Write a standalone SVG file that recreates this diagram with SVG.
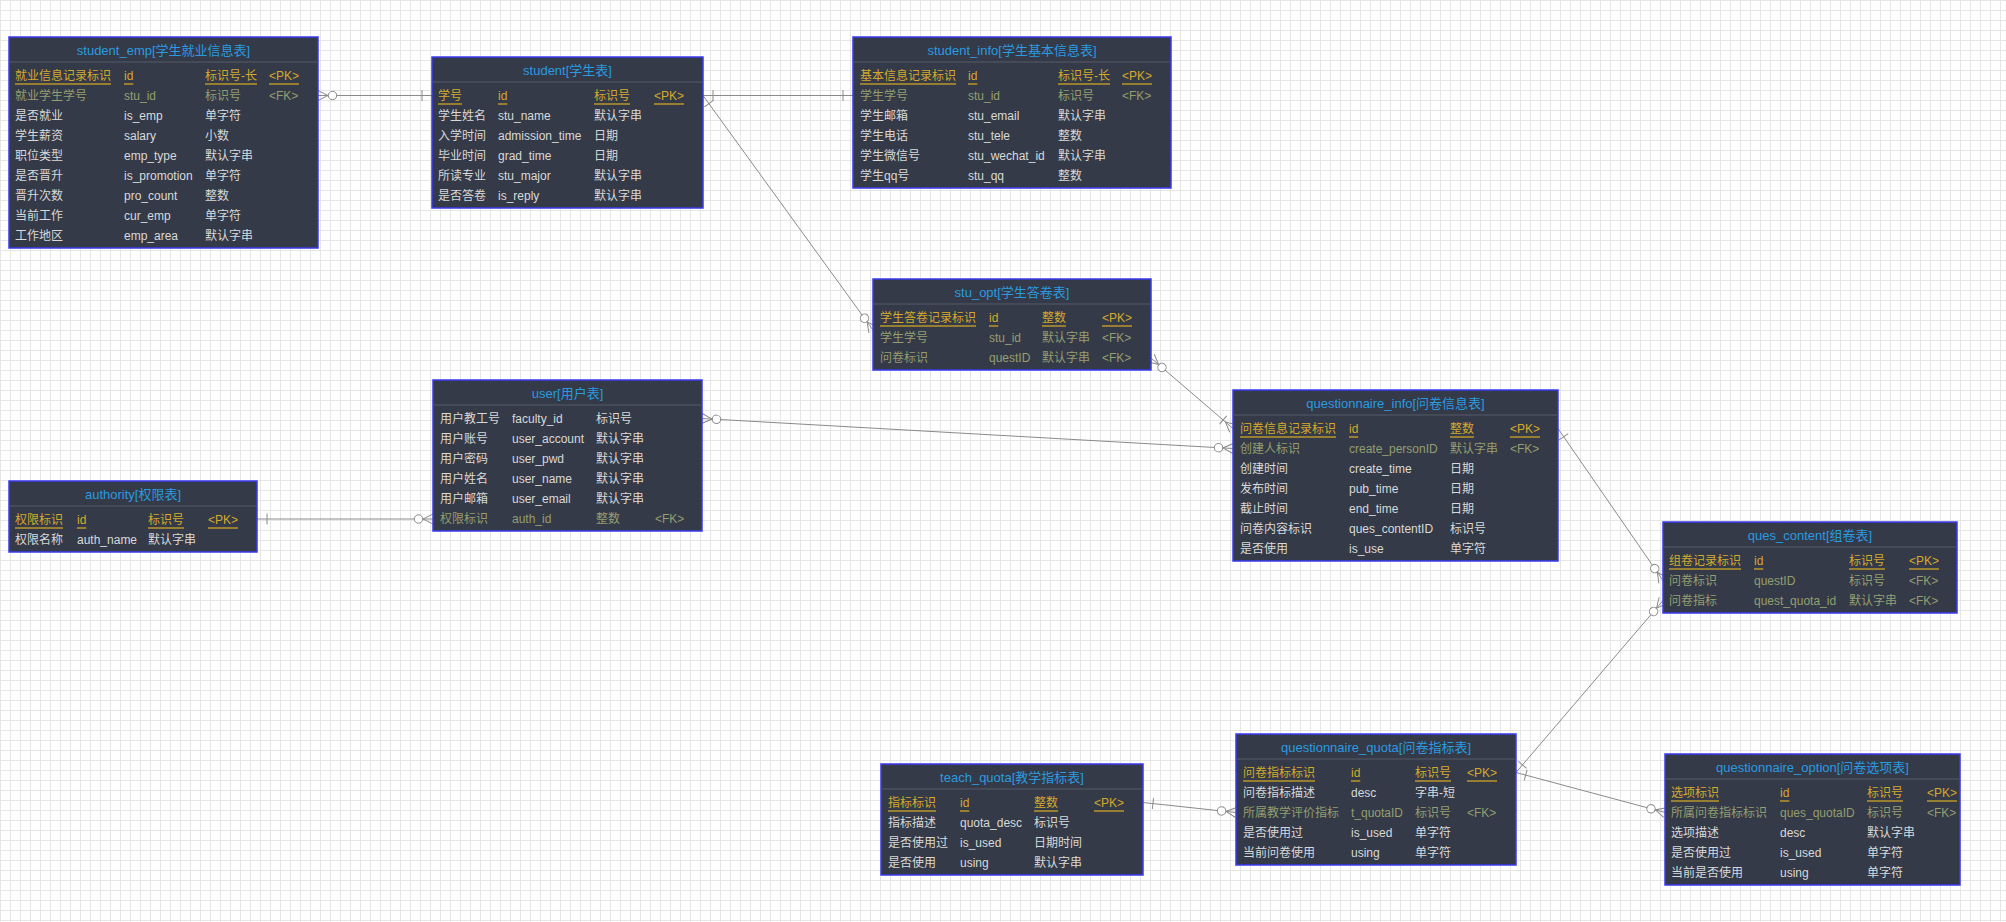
<svg xmlns="http://www.w3.org/2000/svg" width="2006" height="922" viewBox="0 0 2006 922">
  <style>
    text { font-family: "Liberation Sans", "Noto Sans CJK SC", sans-serif; font-size: 12px; }
    .tb { fill: #343a47; stroke: #3a3af2; stroke-width: 1.5; }
    .sep { stroke: #4b515e; stroke-width: 1.5; }
    .ttl { fill: #2a9be0; font-size: 13px; text-anchor: middle; }
    .pk { fill: #d4aa2c; }
    .fk { fill: #959e70; }
    .nm { fill: #d9d9d9; }
    .ul { stroke: #b8952a; stroke-width: 1.5; }
    .cn { fill: none; stroke: #8a8a8a; stroke-width: 1; }
    .mk { fill: none; stroke: #8a8a8a; stroke-width: 1; }
    .mkc { fill: #ffffff; stroke: #8a8a8a; stroke-width: 1; }
  </style>
  <defs>
    <pattern id="grid" width="10" height="10" patternUnits="userSpaceOnUse">
      <path d="M0,0.5H10M0.5,0V10" fill="none" stroke="#e6e6e6" stroke-width="1"/>
    </pattern>
    <!-- exactly one -->
    <marker id="m-one" markerUnits="userSpaceOnUse" orient="auto-start-reverse" markerWidth="1" markerHeight="1" refX="0" refY="0" overflow="visible">
      <path class="mk" d="M-10,-5.5V5.5"/>
    </marker>
    <!-- zero or many -->
    <marker id="m-zmany" markerUnits="userSpaceOnUse" orient="auto-start-reverse" markerWidth="1" markerHeight="1" refX="0" refY="0" overflow="visible">
      <path class="mk" d="M0,-5L-10,0L0,5"/>
      <circle class="mkc" cx="-14.5" cy="0" r="4.2"/>
    </marker>
    <!-- one or many -->
    <marker id="m-omany" markerUnits="userSpaceOnUse" orient="auto-start-reverse" markerWidth="1" markerHeight="1" refX="0" refY="0" overflow="visible">
      <path class="mk" d="M0,-5L-10,0L0,5M-13,-5.5V5.5"/>
    </marker>
  </defs>

  <rect width="2006" height="922" fill="#ffffff"/>
  <rect width="2006" height="922" fill="url(#grid)"/>

  <g id="connectors">
    <path class="cn" d="M318,95.5L432,95.5" marker-start="url(#m-zmany)" marker-end="url(#m-one)"/>
    <path class="cn" d="M703,95.5L853,95.5" marker-start="url(#m-one)" marker-end="url(#m-one)"/>
    <path class="cn" d="M703,95.5L873,330" marker-start="url(#m-one)" marker-end="url(#m-zmany)"/>
    <path class="cn" d="M1151,358L1233,428.5" marker-start="url(#m-zmany)" marker-end="url(#m-omany)"/>
    <path class="cn" d="M702,418.5L1233,448.5" marker-start="url(#m-zmany)" marker-end="url(#m-zmany)"/>
    <path class="cn" d="M257,519L433,519" marker-start="url(#m-one)" marker-end="url(#m-zmany)"/>
    <path class="cn" d="M1558,428.5L1663,580.5" marker-start="url(#m-one)" marker-end="url(#m-zmany)"/>
    <path class="cn" d="M1516,772.5L1663,600.5" marker-start="url(#m-one)" marker-end="url(#m-zmany)"/>
    <path class="cn" d="M1516,772.5L1665,812.5" marker-start="url(#m-one)" marker-end="url(#m-zmany)"/>
    <path class="cn" d="M1143,802.5L1236,812.5" marker-start="url(#m-one)" marker-end="url(#m-zmany)"/>
  </g>

  <g id="student_emp">
    <rect class="tb" x="9" y="37" width="309" height="211"/>
    <text class="ttl" x="163.5" y="55">student_emp[学生就业信息表]</text>
    <line class="sep" x1="9.75" y1="62" x2="317.25" y2="62"/>
    <text class="pk" x="15" y="80">就业信息记录标识</text><text class="pk" x="124" y="80">id</text><text class="pk" x="205" y="80">标识号-长</text><text class="pk" x="269" y="80">&lt;PK&gt;</text>
    <path class="ul" d="M15,84H111M124,84H133.3M205,84H257M269,84H299"/>
    <text class="fk" x="15" y="100">就业学生学号</text><text class="fk" x="124" y="100">stu_id</text><text class="fk" x="205" y="100">标识号</text><text class="fk" x="269" y="100">&lt;FK&gt;</text>
    <text class="nm" x="15" y="120">是否就业</text><text class="nm" x="124" y="120">is_emp</text><text class="nm" x="205" y="120">单字符</text>
    <text class="nm" x="15" y="140">学生薪资</text><text class="nm" x="124" y="140">salary</text><text class="nm" x="205" y="140">小数</text>
    <text class="nm" x="15" y="160">职位类型</text><text class="nm" x="124" y="160">emp_type</text><text class="nm" x="205" y="160">默认字串</text>
    <text class="nm" x="15" y="180">是否晋升</text><text class="nm" x="124" y="180">is_promotion</text><text class="nm" x="205" y="180">单字符</text>
    <text class="nm" x="15" y="200">晋升次数</text><text class="nm" x="124" y="200">pro_count</text><text class="nm" x="205" y="200">整数</text>
    <text class="nm" x="15" y="220">当前工作</text><text class="nm" x="124" y="220">cur_emp</text><text class="nm" x="205" y="220">单字符</text>
    <text class="nm" x="15" y="240">工作地区</text><text class="nm" x="124" y="240">emp_area</text><text class="nm" x="205" y="240">默认字串</text>
  </g>

  <g id="student">
    <rect class="tb" x="432" y="57" width="271" height="151"/>
    <text class="ttl" x="567.5" y="75">student[学生表]</text>
    <line class="sep" x1="432.75" y1="82" x2="702.25" y2="82"/>
    <text class="pk" x="438" y="100">学号</text><text class="pk" x="498" y="100">id</text><text class="pk" x="594" y="100">标识号</text><text class="pk" x="654" y="100">&lt;PK&gt;</text>
    <path class="ul" d="M438,104H462M498,104H507.3M594,104H630M654,104H684"/>
    <text class="nm" x="438" y="120">学生姓名</text><text class="nm" x="498" y="120">stu_name</text><text class="nm" x="594" y="120">默认字串</text>
    <text class="nm" x="438" y="140">入学时间</text><text class="nm" x="498" y="140">admission_time</text><text class="nm" x="594" y="140">日期</text>
    <text class="nm" x="438" y="160">毕业时间</text><text class="nm" x="498" y="160">grad_time</text><text class="nm" x="594" y="160">日期</text>
    <text class="nm" x="438" y="180">所读专业</text><text class="nm" x="498" y="180">stu_major</text><text class="nm" x="594" y="180">默认字串</text>
    <text class="nm" x="438" y="200">是否答卷</text><text class="nm" x="498" y="200">is_reply</text><text class="nm" x="594" y="200">默认字串</text>
  </g>

  <g id="student_info">
    <rect class="tb" x="853" y="37" width="318" height="151"/>
    <text class="ttl" x="1012" y="55">student_info[学生基本信息表]</text>
    <line class="sep" x1="853.75" y1="62" x2="1170.25" y2="62"/>
    <text class="pk" x="860" y="80">基本信息记录标识</text><text class="pk" x="968" y="80">id</text><text class="pk" x="1058" y="80">标识号-长</text><text class="pk" x="1122" y="80">&lt;PK&gt;</text>
    <path class="ul" d="M860,84H956M968,84H977.3M1058,84H1110M1122,84H1152"/>
    <text class="fk" x="860" y="100">学生学号</text><text class="fk" x="968" y="100">stu_id</text><text class="fk" x="1058" y="100">标识号</text><text class="fk" x="1122" y="100">&lt;FK&gt;</text>
    <text class="nm" x="860" y="120">学生邮箱</text><text class="nm" x="968" y="120">stu_email</text><text class="nm" x="1058" y="120">默认字串</text>
    <text class="nm" x="860" y="140">学生电话</text><text class="nm" x="968" y="140">stu_tele</text><text class="nm" x="1058" y="140">整数</text>
    <text class="nm" x="860" y="160">学生微信号</text><text class="nm" x="968" y="160">stu_wechat_id</text><text class="nm" x="1058" y="160">默认字串</text>
    <text class="nm" x="860" y="180">学生qq号</text><text class="nm" x="968" y="180">stu_qq</text><text class="nm" x="1058" y="180">整数</text>
  </g>

  <g id="stu_opt">
    <rect class="tb" x="873" y="279" width="278" height="91"/>
    <text class="ttl" x="1012" y="297">stu_opt[学生答卷表]</text>
    <line class="sep" x1="873.75" y1="304" x2="1150.25" y2="304"/>
    <text class="pk" x="880" y="322">学生答卷记录标识</text><text class="pk" x="989" y="322">id</text><text class="pk" x="1042" y="322">整数</text><text class="pk" x="1102" y="322">&lt;PK&gt;</text>
    <path class="ul" d="M880,326H976M989,326H998.3M1042,326H1066M1102,326H1132"/>
    <text class="fk" x="880" y="342">学生学号</text><text class="fk" x="989" y="342">stu_id</text><text class="fk" x="1042" y="342">默认字串</text><text class="fk" x="1102" y="342">&lt;FK&gt;</text>
    <text class="fk" x="880" y="362">问卷标识</text><text class="fk" x="989" y="362">questID</text><text class="fk" x="1042" y="362">默认字串</text><text class="fk" x="1102" y="362">&lt;FK&gt;</text>
  </g>

  <g id="user">
    <rect class="tb" x="433" y="380" width="269" height="151"/>
    <text class="ttl" x="567.5" y="398">user[用户表]</text>
    <line class="sep" x1="433.75" y1="405" x2="701.25" y2="405"/>
    <text class="nm" x="440" y="423">用户教工号</text><text class="nm" x="512" y="423">faculty_id</text><text class="nm" x="596" y="423">标识号</text>
    <text class="nm" x="440" y="443">用户账号</text><text class="nm" x="512" y="443">user_account</text><text class="nm" x="596" y="443">默认字串</text>
    <text class="nm" x="440" y="463">用户密码</text><text class="nm" x="512" y="463">user_pwd</text><text class="nm" x="596" y="463">默认字串</text>
    <text class="nm" x="440" y="483">用户姓名</text><text class="nm" x="512" y="483">user_name</text><text class="nm" x="596" y="483">默认字串</text>
    <text class="nm" x="440" y="503">用户邮箱</text><text class="nm" x="512" y="503">user_email</text><text class="nm" x="596" y="503">默认字串</text>
    <text class="fk" x="440" y="523">权限标识</text><text class="fk" x="512" y="523">auth_id</text><text class="fk" x="596" y="523">整数</text><text class="fk" x="655" y="523">&lt;FK&gt;</text>
  </g>

  <g id="authority">
    <rect class="tb" x="9" y="481" width="248" height="71"/>
    <text class="ttl" x="133" y="499">authority[权限表]</text>
    <line class="sep" x1="9.75" y1="506" x2="256.25" y2="506"/>
    <text class="pk" x="15" y="524">权限标识</text><text class="pk" x="77" y="524">id</text><text class="pk" x="148" y="524">标识号</text><text class="pk" x="208" y="524">&lt;PK&gt;</text>
    <path class="ul" d="M15,528H63M77,528H86.3M148,528H184M208,528H238"/>
    <text class="nm" x="15" y="544">权限名称</text><text class="nm" x="77" y="544">auth_name</text><text class="nm" x="148" y="544">默认字串</text>
  </g>

  <g id="questionnaire_info">
    <rect class="tb" x="1233" y="390" width="325" height="171"/>
    <text class="ttl" x="1395.5" y="408">questionnaire_info[问卷信息表]</text>
    <line class="sep" x1="1233.75" y1="415" x2="1557.25" y2="415"/>
    <text class="pk" x="1240" y="433">问卷信息记录标识</text><text class="pk" x="1349" y="433">id</text><text class="pk" x="1450" y="433">整数</text><text class="pk" x="1510" y="433">&lt;PK&gt;</text>
    <path class="ul" d="M1240,437H1336M1349,437H1358.3M1450,437H1474M1510,437H1540"/>
    <text class="fk" x="1240" y="453">创建人标识</text><text class="fk" x="1349" y="453">create_personID</text><text class="fk" x="1450" y="453">默认字串</text><text class="fk" x="1510" y="453">&lt;FK&gt;</text>
    <text class="nm" x="1240" y="473">创建时间</text><text class="nm" x="1349" y="473">create_time</text><text class="nm" x="1450" y="473">日期</text>
    <text class="nm" x="1240" y="493">发布时间</text><text class="nm" x="1349" y="493">pub_time</text><text class="nm" x="1450" y="493">日期</text>
    <text class="nm" x="1240" y="513">截止时间</text><text class="nm" x="1349" y="513">end_time</text><text class="nm" x="1450" y="513">日期</text>
    <text class="nm" x="1240" y="533">问卷内容标识</text><text class="nm" x="1349" y="533">ques_contentID</text><text class="nm" x="1450" y="533">标识号</text>
    <text class="nm" x="1240" y="553">是否使用</text><text class="nm" x="1349" y="553">is_use</text><text class="nm" x="1450" y="553">单字符</text>
  </g>

  <g id="ques_content">
    <rect class="tb" x="1663" y="522" width="294" height="91"/>
    <text class="ttl" x="1810" y="540">ques_content[组卷表]</text>
    <line class="sep" x1="1663.75" y1="547" x2="1956.25" y2="547"/>
    <text class="pk" x="1669" y="565">组卷记录标识</text><text class="pk" x="1754" y="565">id</text><text class="pk" x="1849" y="565">标识号</text><text class="pk" x="1909" y="565">&lt;PK&gt;</text>
    <path class="ul" d="M1669,569H1741M1754,569H1763.3M1849,569H1885M1909,569H1939"/>
    <text class="fk" x="1669" y="585">问卷标识</text><text class="fk" x="1754" y="585">questID</text><text class="fk" x="1849" y="585">标识号</text><text class="fk" x="1909" y="585">&lt;FK&gt;</text>
    <text class="fk" x="1669" y="605">问卷指标</text><text class="fk" x="1754" y="605">quest_quota_id</text><text class="fk" x="1849" y="605">默认字串</text><text class="fk" x="1909" y="605">&lt;FK&gt;</text>
  </g>

  <g id="teach_quota">
    <rect class="tb" x="881" y="764" width="262" height="111"/>
    <text class="ttl" x="1012" y="782">teach_quota[教学指标表]</text>
    <line class="sep" x1="881.75" y1="789" x2="1142.25" y2="789"/>
    <text class="pk" x="888" y="807">指标标识</text><text class="pk" x="960" y="807">id</text><text class="pk" x="1034" y="807">整数</text><text class="pk" x="1094" y="807">&lt;PK&gt;</text>
    <path class="ul" d="M888,811H936M960,811H969.3M1034,811H1058M1094,811H1124"/>
    <text class="nm" x="888" y="827">指标描述</text><text class="nm" x="960" y="827">quota_desc</text><text class="nm" x="1034" y="827">标识号</text>
    <text class="nm" x="888" y="847">是否使用过</text><text class="nm" x="960" y="847">is_used</text><text class="nm" x="1034" y="847">日期时间</text>
    <text class="nm" x="888" y="867">是否使用</text><text class="nm" x="960" y="867">using</text><text class="nm" x="1034" y="867">默认字串</text>
  </g>

  <g id="questionnaire_quota">
    <rect class="tb" x="1236" y="734" width="280" height="131"/>
    <text class="ttl" x="1376" y="752">questionnaire_quota[问卷指标表]</text>
    <line class="sep" x1="1236.75" y1="759" x2="1515.25" y2="759"/>
    <text class="pk" x="1243" y="777">问卷指标标识</text><text class="pk" x="1351" y="777">id</text><text class="pk" x="1415" y="777">标识号</text><text class="pk" x="1467" y="777">&lt;PK&gt;</text>
    <path class="ul" d="M1243,781H1315M1351,781H1360.3M1415,781H1451M1467,781H1497"/>
    <text class="nm" x="1243" y="797">问卷指标描述</text><text class="nm" x="1351" y="797">desc</text><text class="nm" x="1415" y="797">字串-短</text>
    <text class="fk" x="1243" y="817">所属教学评价指标</text><text class="fk" x="1351" y="817">t_quotaID</text><text class="fk" x="1415" y="817">标识号</text><text class="fk" x="1467" y="817">&lt;FK&gt;</text>
    <text class="nm" x="1243" y="837">是否使用过</text><text class="nm" x="1351" y="837">is_used</text><text class="nm" x="1415" y="837">单字符</text>
    <text class="nm" x="1243" y="857">当前问卷使用</text><text class="nm" x="1351" y="857">using</text><text class="nm" x="1415" y="857">单字符</text>
  </g>

  <g id="questionnaire_option">
    <rect class="tb" x="1665" y="754" width="295" height="131"/>
    <text class="ttl" x="1812.5" y="772">questionnaire_option[问卷选项表]</text>
    <line class="sep" x1="1665.75" y1="779" x2="1959.25" y2="779"/>
    <text class="pk" x="1671" y="797">选项标识</text><text class="pk" x="1780" y="797">id</text><text class="pk" x="1867" y="797">标识号</text><text class="pk" x="1927" y="797">&lt;PK&gt;</text>
    <path class="ul" d="M1671,801H1719M1780,801H1789.3M1867,801H1903M1927,801H1957"/>
    <text class="fk" x="1671" y="817">所属问卷指标标识</text><text class="fk" x="1780" y="817">ques_quotaID</text><text class="fk" x="1867" y="817">标识号</text><text class="fk" x="1927" y="817">&lt;FK&gt;</text>
    <text class="nm" x="1671" y="837">选项描述</text><text class="nm" x="1780" y="837">desc</text><text class="nm" x="1867" y="837">默认字串</text>
    <text class="nm" x="1671" y="857">是否使用过</text><text class="nm" x="1780" y="857">is_used</text><text class="nm" x="1867" y="857">单字符</text>
    <text class="nm" x="1671" y="877">当前是否使用</text><text class="nm" x="1780" y="877">using</text><text class="nm" x="1867" y="877">单字符</text>
  </g>
</svg>
